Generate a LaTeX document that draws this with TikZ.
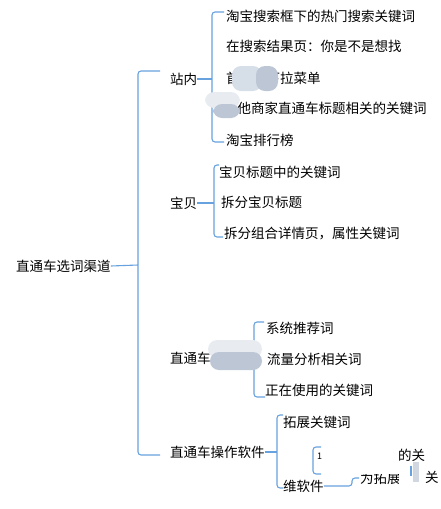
\documentclass[tikz,border=0pt]{standalone}
\usepackage{fontspec}
\newfontfamily\cjk{Noto Sans CJK SC}
\usetikzlibrary{calc}
\definecolor{lnblue}{RGB}{104,162,222}
\definecolor{blobA}{RGB}{214,222,232}
\definecolor{blobB}{RGB}{188,198,212}
\definecolor{blobC}{RGB}{232,236,241}
\begin{document}
\begin{tikzpicture}[x=1pt,y=-1pt,
  txt/.style={anchor=west,inner sep=0pt,font=\cjk\fontsize{13.5}{15}\selectfont,text=black},
  br/.style={draw=lnblue,line width=1.1pt,rounded corners=3pt},
  blob/.style={rounded corners=9pt}]
\useasboundingbox (0,0) rectangle (440,509);

% ---- nodes ----
\node[txt] (root) at (16,266) {直通车选词渠道};
\node[txt] (zn) at (170,79) {站内};
\node[txt] (bb) at (170,203) {宝贝};
\node[txt] (ht) at (170,358) {直通车后台};
\node[txt] (rj) at (170,452) {直通车操作软件};

\node[txt] (z1) at (226,16) {淘宝搜索框下的热门搜索关键词};
\node[txt] (z2) at (226,46) {在搜索结果页：你是不是想找};
\node[txt] (z3) at (226,78) {首页的下拉菜单};
\node[txt] (z4) at (224,108) {其他商家直通车标题相关的关键词};
\node[txt] (z5) at (226,140) {淘宝排行榜};

\node[txt] (b1) at (219,172) {宝贝标题中的关键词};
\node[txt] (b2) at (221,202) {拆分宝贝标题};
\node[txt] (b3) at (224,234) {拆分组合详情页，属性关键词};

\node[txt] (h1) at (266,328) {系统推荐词};
\node[txt] (h2) at (267,359) {流量分析相关词};
\node[txt] (h3) at (265,390) {正在使用的关键词};

\node[txt] (r1) at (283,422) {拓展关键词};
\node[txt] (r2) at (283,486) {维软件};
\node[txt,font=\cjk\fontsize{9}{10}\selectfont] (s1) at (317,456) {1};

% ---- coordinates for bracket spines ----
\coordinate (rb) at (138,0);
\coordinate (zb) at (212,0);
\coordinate (bbx) at (214,0);
\coordinate (hb) at (254,0);
\coordinate (jb) at (277,0);
\coordinate (sb) at (313,0);
\coordinate (wb) at (352,0);

% ---- root bracket ----
\draw[br] (root.east) -- ($(root.east -| rb)+(0,-1)$);
\draw[br] ($(zn.west)+(-10,-8)$) -- ($(zn.west -| rb)+(0,-8)$) -- ($(rj.west -| rb)+(0,3)$) -- ($(rj.west)+(-10,3)$);

% ---- 站内 ----
\draw[br] (zn.east) -- (zn.east -| zb);
\draw[br] ($(z1.west)+(-2,-4)$) -- ($(z1.west -| zb)+(0,-4)$) -- ($(z5.west -| zb)+(0,2)$) -- ($(z5.west)+(-2,2)$);

% ---- 宝贝 ----
\draw[br] (bb.east) -- (bb.east -| bbx);
\draw[br] ($(b1.west)+(0,-7)$) -- ($(b1.west -| bbx)+(0,-7)$) -- ($(b3.west -| bbx)+(0,3)$) -- ($(b3.west)+(-1,3)$);

% ---- 直通车后台 ----
\draw[br] (ht.east) -- (ht.east -| hb);
\draw[br] ($(h1.west)+(-2,-6)$) -- ($(h1.west -| hb)+(0,-6)$) -- ($(h3.west -| hb)+(0,7)$) -- ($(h3.west)+(0,7)$);

% ---- 直通车操作软件 ----
\draw[br] (rj.east) -- (rj.east -| jb);
\draw[br] ($(r1.west)+(0,-7)$) -- ($(r1.west -| jb)+(0,-7)$) -- ($(r2.west -| jb)+(0,2)$) -- ($(r2.west)+(0,2)$);

% ---- 维软件 sub-brackets ----
\draw[br] ($(s1.west)+(4,-9)$) -- ($(s1.west -| sb)+(0,-9)$) -- ($(s1.west -| sb)+(0,18)$) -- ($(s1.west)+(4,18)$);
\coordinate (wt) at (359,478);
\draw[br] (r2.east) -- (r2.east -| wb) -- (wb |- wt) -- (wt);

% ---- partially hidden fragments at the lower right ----
\begin{scope}
  \clip (356,474) rectangle (398,492);
  \node[txt] (f1) at (360,478) {为拓展方};
\end{scope}
\begin{scope}
  \clip (395,440) rectangle (440,460);
  \node[txt] (f2) at (398,455) {的关};
\end{scope}
\node[txt] (f3) at (425,477) {关};
\draw[lnblue,line width=1.1pt] (411,466) -- (411,476);
\fill[blobB!70] (413,462) rectangle (419,482);

% ---- blurred patches ----
\fill[blobA,blob] (232,66) rectangle (262,91);
\fill[blobB,blob] (256,66) rectangle (278,91);
\fill[blobC,blob] (205,92) rectangle (240,108);
\fill[blobB,blob] (213,104) rectangle (240,118);
\fill[blobC,blob] (208,340) rectangle (262,358);
\fill[blobB,blob] (210,352) rectangle (262,370);
\end{tikzpicture}
\end{document}
